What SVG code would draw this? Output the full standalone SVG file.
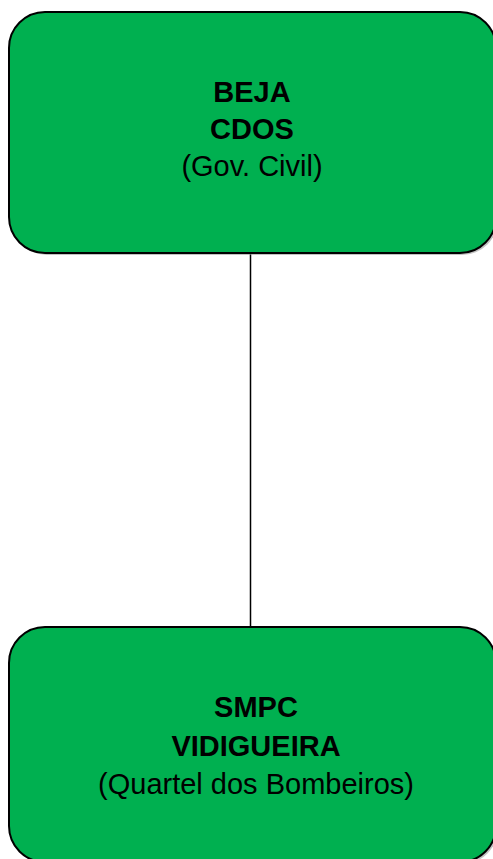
<svg xmlns="http://www.w3.org/2000/svg" width="493" height="859" viewBox="0 0 493 859">
<defs>
<style>
.box{fill:#00b050;stroke:#000;stroke-width:2}
.shadow{fill:#9a9a9a;opacity:0.6}
.t{font-family:"Liberation Sans",Arial,sans-serif;font-size:29px;fill:#000;text-anchor:middle}
.b{font-weight:bold}
.conn{stroke:#000;stroke-width:1.5;fill:none}
</style>
</defs>
<g id="connectors">
<line class="conn" x1="250.5" y1="253" x2="250.5" y2="628"/>
</g>
<g id="node-beja">
<rect class="shadow" x="11" y="14" width="487" height="241" rx="36"/>
<rect class="box" x="9" y="12" width="487" height="241" rx="36"/>
<text class="t b" x="252" y="101.5">BEJA</text>
<text class="t b" x="252" y="139">CDOS</text>
<text class="t" x="252" y="176">(Gov. Civil)</text>
</g>
<g id="node-vidigueira">
<rect class="shadow" x="11" y="629" width="487" height="235" rx="36"/>
<rect class="box" x="9" y="627" width="487" height="235" rx="36"/>
<text class="t b" x="256" y="717">SMPC</text>
<text class="t b" x="256" y="756">VIDIGUEIRA</text>
<text class="t" x="256" y="794">(Quartel dos Bombeiros)</text>
</g>
</svg>
